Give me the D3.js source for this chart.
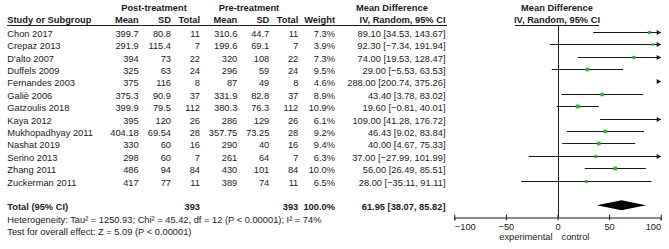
<!DOCTYPE html>
<html><head><meta charset="utf-8">
<script src="https://cdn.jsdelivr.net/npm/d3@7"></script>
<style>
body{margin:0;background:#fff;}
svg text{font-family:"Liberation Sans",Arial,sans-serif;font-size:9.3px;fill:#1a1a1a;}
.b{font-weight:bold;}
</style></head><body>
<script>
const studies=["Chon 2017","Crepaz 2013","D'alto 2007","Duffels 2009","Fernandes 2003","Galiè 2006","Gatzoulis 2018","Kaya 2012","Mukhopadhyay 2011","Nashat 2019","Serino 2013","Zhang 2011","Zuckerman 2011"];
const postMean=[399.7,291.9,394,325,375,375.3,399.9,395,404.18,330,298,486,417];
const postSD=[80.8,115.4,73,63,116,90.9,79.5,120,69.54,60,60,94,77];
const postN=[11,7,22,24,8,37,112,26,28,16,7,84,11];
const preMean=[310.6,199.6,320,296,87,331.9,380.3,286,357.75,290,261,430,389];
const preSD=[44.7,69.1,108,59,49,82.8,76.3,129,73.25,40,64,101,74];
const preN=[11,7,22,24,8,37,112,26,28,16,7,84,11];
const weight=[7.3,3.9,7.3,9.5,4.6,8.9,10.9,6.1,9.2,9.4,6.3,10.0,6.5];
const md=[89.10,92.30,74.00,29.00,288.00,43.40,19.60,109.00,46.43,40.00,37.00,56.00,28.00];
const lo=[34.53,-7.34,19.53,-5.53,200.74,3.78,-0.81,41.28,9.02,4.67,-27.99,26.49,-35.11];
const hi=[143.67,191.94,128.47,63.53,375.26,83.02,40.01,176.72,83.84,75.33,101.99,85.51,91.11];
const total={postN:393,preN:393,weight:"100.0%",md:61.95,lo:38.07,hi:85.82};
const ticks=[-100,-50,0,50,100];
const hetText="Heterogeneity: Tau² = 1250.93; Chi² = 45.42, df = 12 (P < 0.00001); I² = 74%";
const testText="Test for overall effect: Z = 5.09 (P < 0.00001)";

const W=669,H=249;
const svg=d3.select("body").append("svg").attr("width",W).attr("height",H);
const x=d3.scaleLinear().domain([-100,100]).range([454.3,660.7]);
const y=d3.scaleLinear().domain([0,studies.length-1]).range([31.7,180.7]);
const yTot=205.3, yAxis=217.5;
const ink="#1a1a1a", green="#33b533";
const fmt2=d3.format(".2f");
const ci=i=>`${fmt2(md[i])} [${fmt2(lo[i])}, ${fmt2(hi[i])}]`;

function txt(xp,yp,s,anchor,cls){
  return svg.append("text").attr("x",xp).attr("y",yp).attr("text-anchor",anchor||"start").attr("class",cls||null).text(s);
}
// headers
txt(154,10.5,"Post-treatment","middle","b");
txt(249,10.5,"Pre-treatment","middle","b");
txt(356,10.5,"Mean Difference","start","b");
txt(557,10.5,"Mean Difference","middle","b");
const h2=23;
txt(7.3,h2,"Study or Subgroup","start","b");
const cols=[138.7,171,200,237.3,269.3,298.3,335,445.5];
["Mean","SD","Total","Mean","SD","Total","Weight","IV, Random, 95% CI"].forEach((s,j)=>txt(cols[j],h2,s,"end","b"));
txt(557,h2,"IV, Random, 95% CI","middle","b");
svg.append("line").attr("x1",7).attr("x2",447).attr("y1",25.5).attr("y2",25.5).attr("stroke",ink);
svg.append("line").attr("x1",515).attr("x2",599).attr("y1",25.5).attr("y2",25.5).attr("stroke",ink);

// rows
studies.forEach((s,i)=>{
  const by=y(i)+5;
  txt(7.3,by,s);
  const vals=[String(postMean[i]),String(postSD[i]),String(postN[i]),String(preMean[i]),String(preSD[i]),String(preN[i]),weight[i].toFixed(1)+"%",ci(i)];
  vals.forEach((v,j)=>txt(cols[j],by,v,"end"));
});
// total
txt(7.3,yTot+5,"Total (95% CI)","start","b");
txt(cols[2],yTot+5,String(total.postN),"end","b");
txt(cols[5],yTot+5,String(total.preN),"end","b");
txt(cols[6],yTot+5,total.weight,"end","b");
txt(cols[7],yTot+5,`${fmt2(total.md)} [${fmt2(total.lo)}, ${fmt2(total.hi)}]`,"end","b");
txt(7.3,222.5,hetText);
txt(7.3,235,testText);

// zero line
svg.append("line").attr("x1",Math.round(x(0))+0.5).attr("x2",Math.round(x(0))+0.5).attr("y1",26).attr("y2",yAxis).attr("stroke",ink);

// CI lines, arrows, markers
const [dmin,dmax]=x.domain();
studies.forEach((s,i)=>{
  const yy=Math.round(y(i))+0.5;
  const a=Math.max(lo[i],dmin), b=Math.min(hi[i],dmax);
  if(a<b){
    svg.append("line").attr("x1",x(a)).attr("x2",x(b)).attr("y1",yy).attr("y2",yy).attr("stroke",ink).attr("stroke-width",1);
  }
  if(hi[i]>dmax){
    const t=x(dmax);
    svg.append("path").attr("d",`M${t+0.5},${yy} L${t-4},${yy-2.6} L${t-4},${yy+2.6} Z`).attr("fill",ink);
  }
  if(lo[i]<dmin){
    const t=x(dmin);
    svg.append("path").attr("d",`M${t-0.5},${yy} L${t+4},${yy-2.6} L${t+4},${yy+2.6} Z`).attr("fill",ink);
  }
  if(md[i]>=dmin && md[i]<=dmax){
    const sz=Math.sqrt(weight[i])*1.2;
    svg.append("rect").attr("x",x(md[i])-sz/2).attr("y",yy-sz/2).attr("width",sz).attr("height",sz).attr("fill",green);
  }
});
// diamond
svg.append("path").attr("d",`M${x(total.lo)},${yTot} L${x(total.md)},${yTot-5} L${x(total.hi)},${yTot} L${x(total.md)},${yTot+5} Z`).attr("fill","#000");

// axis
const ax=svg.append("g").attr("transform",`translate(0,${yAxis})`)
  .call(d3.axisBottom(x).tickValues(ticks).tickSizeOuter(0).tickSize(2.8).tickPadding(3));
ax.select(".domain").attr("stroke",ink);
ax.selectAll(".tick line").attr("y1",-2.8).attr("y2",2.8).attr("stroke",ink);
ax.selectAll(".tick text").attr("font-family",null).attr("font-size",null).style("font-size","9.3px").attr("fill",ink)
  .attr("dy","0.71em")
  .attr("text-anchor",(d,i)=>i===0?"start":(i===ticks.length-1?"end":"middle"));
txt(x(0)-5,239.5,"experimental","end");
txt(x(0)+4,239.5,"control","start");
</script>
</body></html>
